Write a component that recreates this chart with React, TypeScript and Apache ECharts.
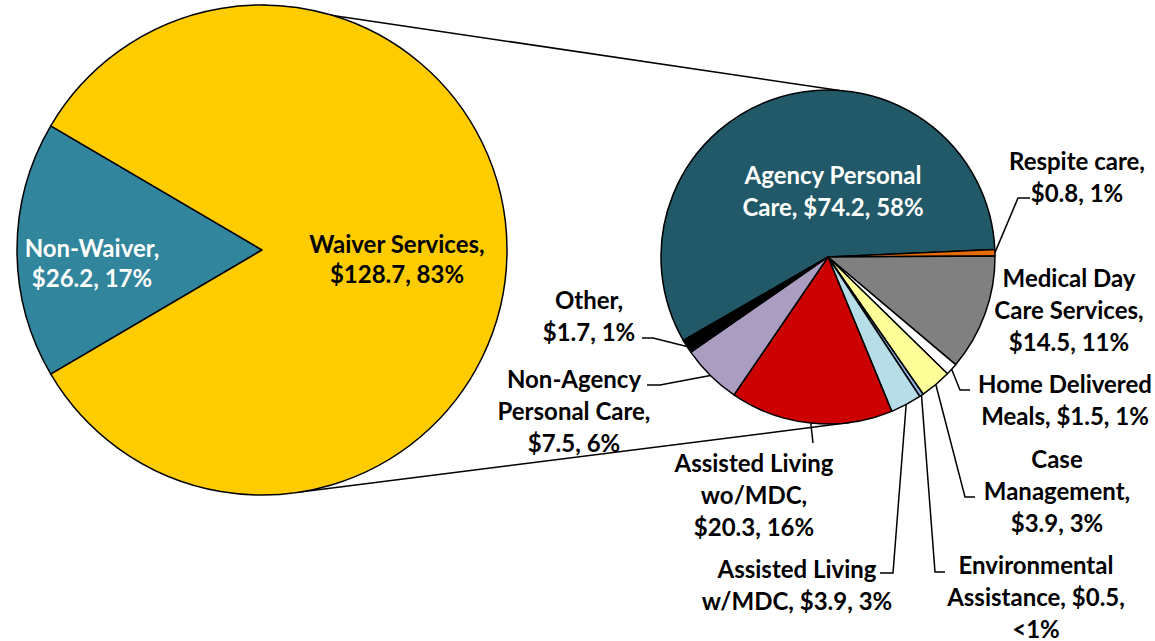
import React, { useEffect, useRef } from 'react';
import * as echarts from 'echarts';

// ---- Data ----
const outerNames = ['Non-Waiver', 'Waiver Services'];
const outerValues = [26.2, 128.7];
const outerLabels = ['Non-Waiver,\n$26.2, 17%', 'Waiver Services,\n$128.7, 83%'];
const outerColors = ['#31859C', '#FFCC00'];

const waiverNames = [
  'Agency Personal Care',
  'Respite care',
  'Medical Day Care Services',
  'Home Delivered Meals',
  'Case Management',
  'Environmental Assistance',
  'Assisted Living w/MDC',
  'Assisted Living wo/MDC',
  'Non-Agency Personal Care',
  'Other',
];
const waiverValues = [74.2, 0.8, 14.5, 1.5, 3.9, 0.5, 3.9, 20.3, 7.5, 1.7];
const waiverLabels = [
  'Agency Personal\nCare, $74.2, 58%',
  'Respite care,\n$0.8, 1%',
  'Medical Day\nCare Services,\n$14.5, 11%',
  'Home Delivered\nMeals, $1.5, 1%',
  'Case\nManagement,\n$3.9, 3%',
  'Environmental\nAssistance, $0.5,\n<1%',
  'Assisted Living\nw/MDC, $3.9, 3%',
  'Assisted Living\nwo/MDC,\n$20.3, 16%',
  'Non-Agency\nPersonal Care,\n$7.5, 6%',
  'Other,\n$1.7, 1%',
];
const waiverColors = [
  '#215968', '#E46C0A', '#808080', '#FFFFFF', '#FFFF99',
  '#8DB4E2', '#B7DEE8', '#CC0000', '#AB9DC1', '#000000',
];

// ---- Layout ----
const FONT = 'Lato, "Noto Sans", sans-serif';
const C1 = [262, 250];
const R1 = 245;
const C2 = [828, 257];
const R2 = 167;
const START1 = 210.45;
const START2 = 210;

const outerLabelPos = [
  { x: 92, y: 262 },
  { x: 397, y: 258 },
];

type LP = { x: number; y: number; line?: number[][] };
const waiverLabelPos: LP[] = [
  { x: 833, y: 190 },
  { x: 1077, y: 176, line: [[1018, 198], [1030, 198]] },
  { x: 1069, y: 309 },
  { x: 1065, y: 399, line: [[960, 390], [970, 390]] },
  { x: 1057, y: 490, line: [[965, 497], [975, 497]] },
  { x: 1036, y: 596, line: [[935, 572], [945, 572]] },
  { x: 797, y: 584, line: [[893, 573], [880, 573]] },
  { x: 754, y: 494, line: [[813, 443]] },
  { x: 574, y: 410, line: [[660, 385], [647, 385]] },
  { x: 589, y: 315, line: [[653, 338], [642, 338]] },
];

function midAngles(values: number[], start: number): number[] {
  const total = values.reduce((a, b) => a + b, 0);
  let acc = 0;
  return values.map((v) => {
    const m = start - ((acc + v / 2) / total) * 360;
    acc += v;
    return m;
  });
}

function polar(c: number[], r: number, deg: number): number[] {
  const a = (deg * Math.PI) / 180;
  return [c[0] + r * Math.cos(a), c[1] - r * Math.sin(a)];
}

export default function App() {
  const ref = useRef<HTMLDivElement>(null);

  useEffect(() => {
    document.body.style.margin = '0';
    if (!ref.current) return;
    const chart = echarts.init(ref.current, null, { renderer: 'svg' });
    const mids = midAngles(waiverValues, START2);

    const topA = polar(C1, R1, 90);
    const topB = polar(C2, R2, 86);
    const botA = polar(C1, R1, -81);
    const botB = polar(C2, R2, -82.5);

    chart.setOption({
      animation: false,
      backgroundColor: '#ffffff',
      graphic: [
        {
          type: 'line',
          z: 1,
          shape: { x1: topA[0], y1: topA[1], x2: topB[0], y2: topB[1] },
          style: { stroke: '#000', lineWidth: 1.5 },
        },
        {
          type: 'line',
          z: 1,
          shape: { x1: botA[0], y1: botA[1], x2: botB[0], y2: botB[1] },
          style: { stroke: '#000', lineWidth: 1.5 },
        },
      ],
      series: [
        {
          type: 'pie',
          center: C1,
          radius: R1,
          startAngle: START1,
          clockwise: true,
          avoidLabelOverlap: false,
          itemStyle: { borderColor: '#000', borderWidth: 1.5 },
          label: {
            show: true,
            position: 'inside',
            fontFamily: FONT,
            fontWeight: 'bold',
            fontSize: 24,
            lineHeight: 30,
            align: 'center',
            formatter: (p: any) => outerLabels[p.dataIndex],
          },
          labelLine: { show: false },
          labelLayout: (p: any) => ({
            x: outerLabelPos[p.dataIndex].x,
            y: outerLabelPos[p.dataIndex].y,
            align: 'center',
            verticalAlign: 'middle',
          }),
          data: outerNames.map((n, i) => ({
            name: n,
            value: outerValues[i],
            itemStyle: { color: outerColors[i] },
            label: { color: i === 0 ? '#ffffff' : '#000000' },
          })),
        },
        {
          type: 'pie',
          center: C2,
          radius: R2,
          startAngle: START2,
          clockwise: true,
          avoidLabelOverlap: false,
          itemStyle: { borderColor: '#000', borderWidth: 1.5 },
          label: {
            show: true,
            position: 'outside',
            fontFamily: FONT,
            fontWeight: 'bold',
            fontSize: 24,
            lineHeight: 32,
            align: 'center',
            color: '#000',
            formatter: (p: any) => waiverLabels[p.dataIndex],
          },
          labelLine: {
            show: true,
            length: 10,
            length2: 10,
            smooth: false,
            lineStyle: { color: '#000', width: 1.5 },
          },
          labelLayout: (p: any) => {
            const i = p.dataIndex;
            const pos = waiverLabelPos[i];
            const res: any = {
              x: pos.x,
              y: pos.y,
              align: 'center',
              verticalAlign: 'middle',
            };
            if (pos.line) {
              res.labelLinePoints = [polar(C2, R2, mids[i]), ...pos.line];
            }
            return res;
          },
          data: waiverNames.map((n, i) => {
            const d: any = {
              name: n,
              value: waiverValues[i],
              itemStyle: { color: waiverColors[i] },
            };
            if (i === 0) {
              d.label = { position: 'inside', color: '#ffffff' };
              d.labelLine = { show: false };
            } else if (!waiverLabelPos[i].line) {
              d.labelLine = { show: false };
            }
            return d;
          }),
        },
      ],
    });
    return () => chart.dispose();
  }, []);

  return <div ref={ref} style={{ width: 1155, height: 641 }} />;
}
